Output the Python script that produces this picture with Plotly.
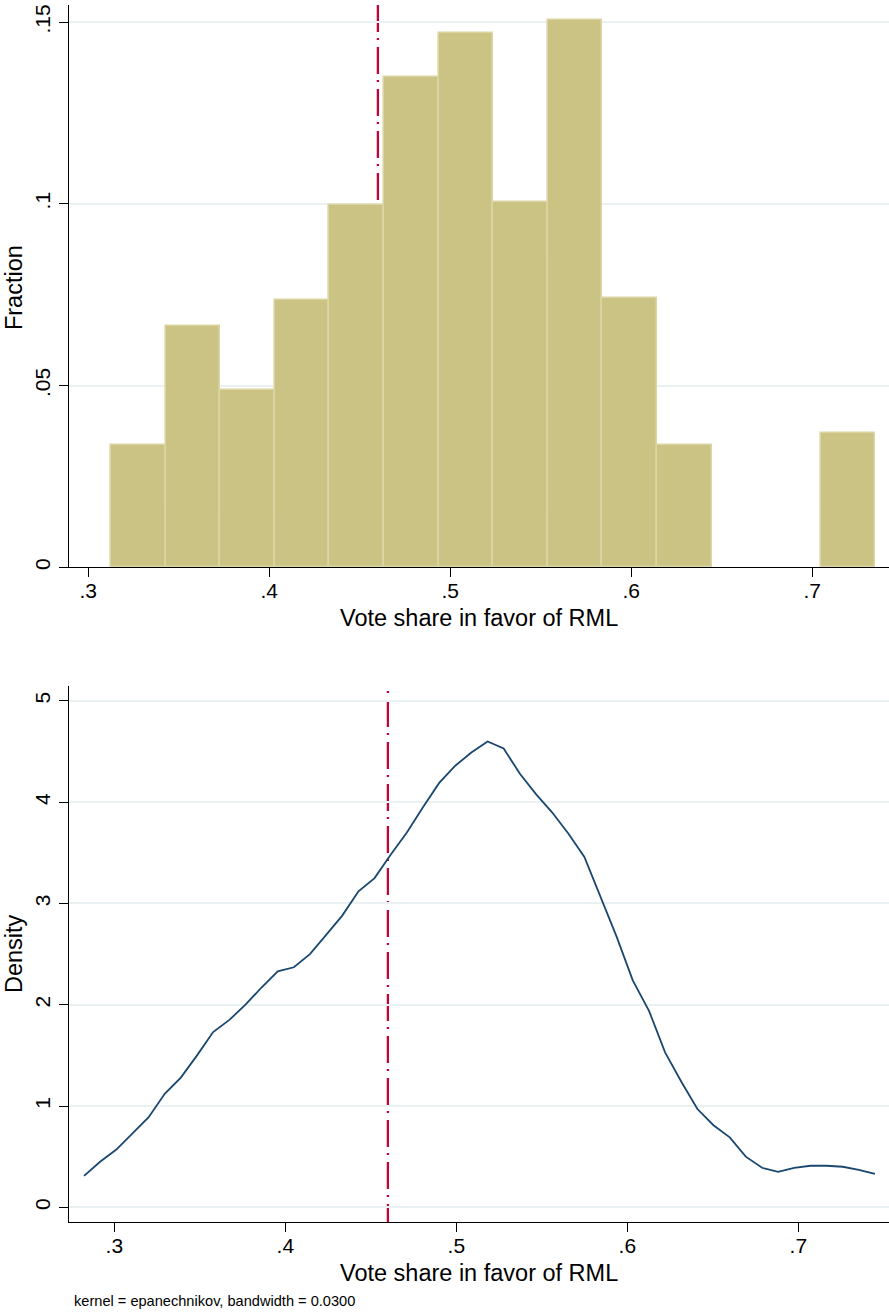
import plotly.graph_objects as go

# ---- data -------------------------------------------------------------
# Histogram of vote share (fraction of observations per bin)
bin_start = [0.3125, 0.3427, 0.3729, 0.4030, 0.4332, 0.4634, 0.4935,
             0.5237, 0.5539, 0.5840, 0.6142, 0.6444, 0.6745, 0.7047]
bin_width = 0.03017
fraction = [0.0337, 0.0664, 0.0488, 0.0735, 0.0998, 0.1349, 0.1469,
            0.1006, 0.1505, 0.0740, 0.0336, 0.0, 0.0, 0.0370]

# Kernel density estimate (epanechnikov, bw = 0.03)
kd_x = [0.2823, 0.2917, 0.3012, 0.3106, 0.3201, 0.3295, 0.3389, 0.3484,
        0.3578, 0.3673, 0.3767, 0.3861, 0.3956, 0.4050, 0.4144, 0.4239,
        0.4333, 0.4428, 0.4522, 0.4616, 0.4711, 0.4805, 0.4900, 0.4994,
        0.5088, 0.5183, 0.5277, 0.5372, 0.5466, 0.5560, 0.5655, 0.5749,
        0.5844, 0.5938, 0.6032, 0.6127, 0.6221, 0.6316, 0.6410, 0.6504,
        0.6599, 0.6693, 0.6788, 0.6882, 0.6976, 0.7071, 0.7165, 0.7260,
        0.7354, 0.7448]
kd_y = [0.31, 0.45, 0.57, 0.73, 0.89, 1.12, 1.28, 1.50, 1.73, 1.85,
        2.00, 2.17, 2.33, 2.37, 2.50, 2.69, 2.88, 3.12, 3.25, 3.48,
        3.70, 3.95, 4.19, 4.36, 4.49, 4.60, 4.53, 4.28, 4.08, 3.90,
        3.69, 3.46, 3.07, 2.67, 2.24, 1.94, 1.53, 1.24, 0.97, 0.81,
        0.69, 0.50, 0.39, 0.35, 0.39, 0.41, 0.41, 0.40, 0.37, 0.33]

threshold = 0.46

x_ticks = [0.3, 0.4, 0.5, 0.6, 0.7]
x_ticktext = [".3", ".4", ".5", ".6", ".7"]
hist_yticks = [0, 0.05, 0.1, 0.15]
hist_yticktext = ["0", ".05", ".1", ".15"]
dens_yticks = [0, 1, 2, 3, 4, 5]
dens_yticktext = ["0", "1", "2", "3", "4", "5"]

x_title = "Vote share in favor of RML"
note = "kernel = epanechnikov, bandwidth = 0.0300"

# ---- style ------------------------------------------------------------
W, H = 889, 1314
FONT = "Liberation Sans, Arial, sans-serif"
BAR_FILL = "#cac383"
BAR_EDGE = "#dad5a2"
LINE_BLUE = "#1a476f"
CRANBERRY = "#c10534"
GRID = "#eaf1f3"


def py(p):
    """pixel row -> paper y"""
    return 1 - p / H


# empty bins are not drawn as bars
bars = [(x, f) for x, f in zip(bin_start, fraction) if f > 0]

fig = go.Figure()

fig.add_trace(go.Bar(
    x=[b[0] for b in bars], y=[b[1] for b in bars], width=bin_width, offset=0,
    marker=dict(color=BAR_FILL, line=dict(color=BAR_EDGE, width=1.6)),
    xaxis="x", yaxis="y", showlegend=False, hoverinfo="skip"))

fig.add_trace(go.Scatter(
    x=kd_x, y=kd_y, mode="lines",
    line=dict(color=LINE_BLUE, width=1.8),
    xaxis="x2", yaxis="y2", showlegend=False, hoverinfo="skip"))

axis_common = dict(
    showline=True, linecolor="black", linewidth=1.3,
    ticks="outside", ticklen=9, tickwidth=1.3, tickcolor="black",
    tickfont=dict(family=FONT, size=21, color="black"),
    zeroline=False, mirror=False,
)

x_dom = [69 / W, 1.0]

fig.update_layout(
    width=W, height=H,
    margin=dict(l=0, r=0, t=0, b=0),
    paper_bgcolor="white", plot_bgcolor="white",
    bargap=0,
    xaxis=dict(domain=x_dom, range=[0.28934, 0.74238],
               tickvals=x_ticks, ticktext=x_ticktext, showgrid=False,
               ticklabelstandoff=-5, anchor="y", **axis_common),
    yaxis=dict(domain=[py(568), py(4)], range=[0, 0.1547],
               tickvals=hist_yticks, ticktext=hist_yticktext, tickangle=-90,
               showgrid=True, gridcolor=GRID, gridwidth=1.5,
               anchor="x", **axis_common),
    xaxis2=dict(domain=x_dom, range=[0.27351, 0.75304],
                tickvals=x_ticks, ticktext=x_ticktext, showgrid=False,
                ticklabelstandoff=-5, anchor="y2", **axis_common),
    yaxis2=dict(domain=[py(1225), py(687)], range=[-0.148, 5.148],
                tickvals=dens_yticks, ticktext=dens_yticktext, tickangle=-90,
                showgrid=True, gridcolor=GRID, gridwidth=1.5,
                anchor="x2", **axis_common),
)

# reference line at the threshold, in both panels
fig.add_shape(type="line", xref="x", yref="paper",
              x0=threshold, x1=threshold, y0=py(4), y1=py(568), layer="below",
              line=dict(color=CRANBERRY, width=2.3, dash="27px,6px,2px,7px"))
fig.add_shape(type="line", xref="x2", yref="paper",
              x0=threshold, x1=threshold, y0=py(692), y1=py(1225),
              layer="below",
              line=dict(color=CRANBERRY, width=2.3, dash="2px,7px,27px,6px"))

title_font = dict(family=FONT, size=23.5, color="black")
annotations = [
    dict(text="Fraction", x=14 / W, y=py(288), textangle=-90),
    dict(text=x_title, x=479 / W, y=py(619)),
    dict(text="Density", x=14 / W, y=py(956), textangle=-90),
    dict(text=x_title, x=479 / W, y=py(1276)),
]
for a in annotations:
    fig.add_annotation(xref="paper", yref="paper", showarrow=False,
                       xanchor="center", yanchor="middle", font=title_font, **a)
fig.add_annotation(text=note, xref="paper", yref="paper", x=72 / W, y=py(1304),
                   xanchor="left", yanchor="middle", showarrow=False,
                   font=dict(family=FONT, size=14.6, color="black"))

fig.write_html("out.html")
